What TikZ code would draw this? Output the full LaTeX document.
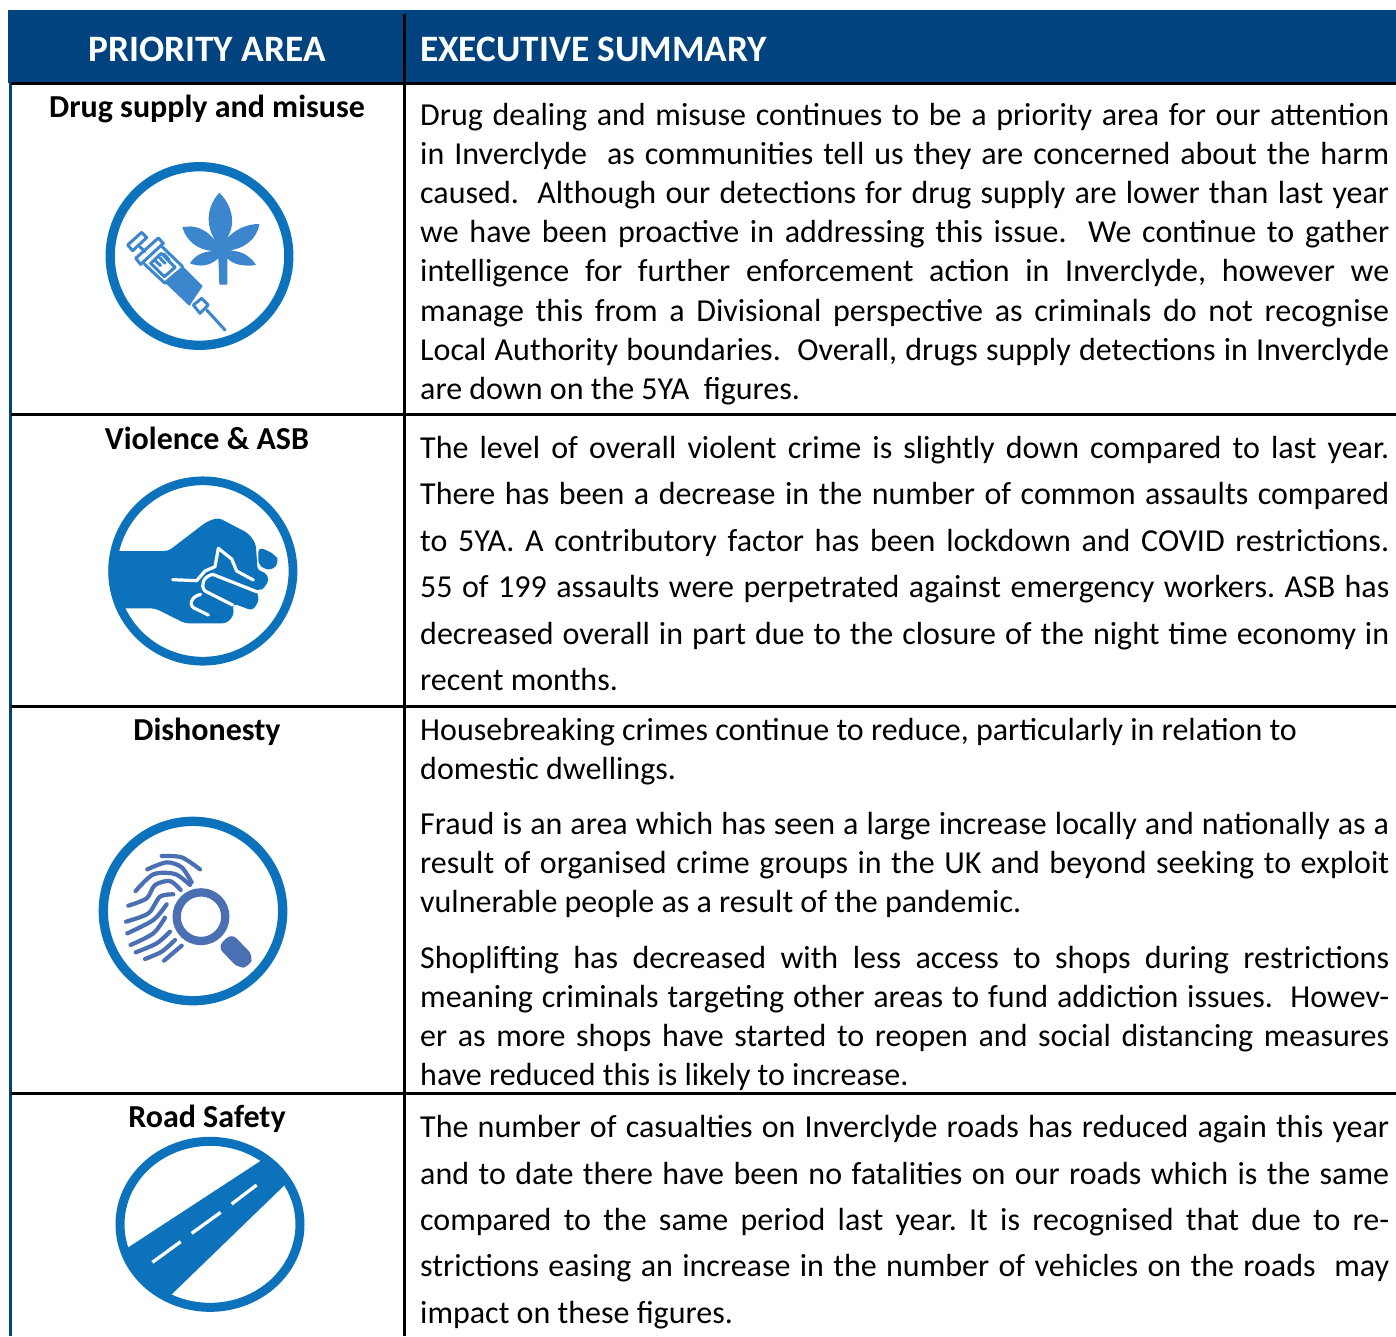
\documentclass[tikz,border=0pt]{standalone}
\usepackage{fontspec}
\setmainfont{Carlito}
\definecolor{headblue}{HTML}{00437F}
\definecolor{ringblue}{HTML}{0B72BB}
\definecolor{leafblue}{HTML}{3B86CC}
\definecolor{printblue}{HTML}{4A6FB3}
\tikzset{
  bodyline/.style={anchor=base west,inner sep=0pt,yshift=-1pt,font=\fontsize{32}{38}\selectfont},
  rowtitle/.style={anchor=base,inner sep=0pt,yshift=-1pt,font=\fontsize{32}{38}\selectfont\bfseries},
  headtext/.style={anchor=base,inner sep=0pt,yshift=-1pt,text=white,font=\fontsize{37.3}{44}\selectfont\bfseries},
  rule/.style={line width=3pt,black},
  ring/.style={draw=ringblue,line width=9.3pt},
  ridge/.style={draw=printblue,line width=4.2pt,line cap=round},
  zoomA/.style={shift={(90,150)},scale=0.33333},
  zoomB/.style={shift={(90,465)},scale=0.33333},
  zoomC/.style={shift={(90,805)},scale=0.33333},
  zoomD/.style={shift={(100,1125)},scale=0.33333},
}
\newcommand\jline[3]{\node[bodyline] (#1) at (420,#2) {\makebox[969pt][s]{#3}};}
\newcommand\pline[3]{\node[bodyline] (#1) at (420,#2) {#3};}
\frenchspacing
\begin{document}
\begin{tikzpicture}[x=1pt,y=-1pt]
\useasboundingbox (0,0) rectangle (1396,1336);
\fill[white] (0,0) rectangle (1396,1336);
% header
\fill[headblue] (8,10) rectangle (1396,83);
\fill[headblue] (9,83) rectangle (11.7,1336);
\draw[rule] (404.7,14) -- (404.7,1336);
\draw[rule] (11,83.3) -- (1396,83.3);
\draw[rule] (11,414.5) -- (1396,414.5);
\draw[rule] (11,706.5) -- (1396,706.5);
\draw[rule] (11,1093.5) -- (1396,1093.5);
\node[headtext] (hleft) at (207,60) {PRIORITY AREA};
\node[headtext,anchor=base west] (hright) at (420,60) {EXECUTIVE SUMMARY};
% row titles
\node[rowtitle] (t1) at (207,116) {Drug supply and misuse};
\node[rowtitle] (t2) at (207,448) {Violence \& ASB};
\node[rowtitle] (t3) at (207,739) {Dishonesty};
\node[rowtitle] (t4) at (207,1126) {Road Safety};
% row 1
\jline{a1}{124}{Drug dealing and misuse continues to be a priority area for our attention}
\jline{a2}{163}{in Inverclyde~~as communities tell us they are concerned about the harm}
\jline{a3}{202}{caused.~~Although our detections for drug supply are lower than last year}
\jline{a4}{241}{we have been proactive in addressing this issue.~~We continue to gather}
\jline{a5}{280}{intelligence for further enforcement action in Inverclyde, however we}
\jline{a6}{320}{manage this from a Divisional perspective as criminals do not recognise}
\jline{a7}{359}{Local Authority boundaries.~~Overall, drugs supply detections in Inverclyde}
\pline{a8}{398}{are down on the 5YA~~figures.}
% row 2
\jline{b1}{457}{The level of overall violent crime is slightly down compared to last year.}
\jline{b2}{503}{There has been a decrease in the number of common assaults compared}
\jline{b3}{550}{to 5YA. A contributory factor has been lockdown and COVID restrictions.}
\jline{b4}{596}{55 of 199 assaults were perpetrated against emergency workers. ASB has}
\jline{b5}{643}{decreased overall in part due to the closure of the night time economy in}
\pline{b6}{689}{recent months.}
% row 3
\pline{c1}{739}{Housebreaking crimes continue to reduce, particularly in relation to}
\pline{c2}{778}{domestic dwellings.}
\jline{c3}{833}{Fraud is an area which has seen a large increase locally and nationally as a}
\jline{c4}{872}{result of organised crime groups in the UK and beyond seeking to exploit}
\pline{c5}{911}{vulnerable people as a result of the pandemic.}
\jline{c6}{967}{Shoplifting has decreased with less access to shops during restrictions}
\jline{c7}{1006}{meaning criminals targeting other areas to fund addiction issues.~~Howev-}
\jline{c8}{1045}{er as more shops have started to reopen and social distancing measures}
\pline{c9}{1084}{have reduced this is likely to increase.}
% row 4
\jline{d1}{1136}{The number of casualties on Inverclyde roads has reduced again this year}
\jline{d2}{1183}{and to date there have been no fatalities on our roads which is the same}
\jline{d3}{1229}{compared to the same period last year. It is recognised that due to re-}
\jline{d4}{1275}{strictions easing an increase in the number of vehicles on the roads~~may}
\pline{d5}{1322}{impact on these figures.}
% icon 1: syringe and leaf
\draw[ring] (199.5,256) circle[radius=89.3];
\begin{scope}[zoomA]
  \fill[leafblue] (390,290) .. controls (345,240) and (345,175) .. (388,128)
     .. controls (435,175) and (435,235) .. (408,268)
     .. controls (435,238) and (470,222) .. (508,222)
     .. controls (500,268) and (465,295) .. (412,303)
     .. controls (445,298) and (480,315) .. (498,345)
     .. controls (465,350) and (430,345) .. (412,325)
     -- (412,404) -- (388,404) -- (385,325)
     .. controls (360,348) and (330,352) .. (300,340)
     .. controls (315,315) and (340,305) .. (368,303)
     .. controls (325,300) and (290,275) .. (277,232)
     .. controls (315,222) and (350,240) .. (372,268) -- cycle;
  \begin{scope}[leafblue,line width=3pt,line join=round,line cap=round]
    \draw (113,285) -- (155,247) -- (170,263) -- (128,302) -- cycle;
    \draw (150,290) -- (165,305);
    \draw (137,325) -- (205,264) -- (220,280) -- (152,343) -- cycle;
    \draw (163,342) -- (225,400);
    \draw (213,287) -- (278,350);
    \draw (182,340) -- (214,310) -- (255,352) -- (223,380) -- cycle;
    \draw (196,332) -- (212,347);
    \draw (208,322) -- (225,340);
    \draw (222,312) -- (238,330);
    \draw (310,465) -- (335,445) -- (355,465) -- (330,490) -- cycle;
    \draw (350,480) -- (405,540);
  \end{scope}
  \fill[leafblue] (222,395) -- (278,348) -- (338,408) -- (298,468) -- cycle;
\end{scope}
% icon 2: fist
\draw[ring,line width=8.7pt] (202.8,571) circle[radius=90.2];
\begin{scope}[zoomB]
  \clip (338,318) circle[radius=282];
  \fill[ringblue,rounded corners=4pt] (40,258) -- (235,258) -- (350,170) -- (385,158) -- (475,205) -- (497,235) -- (503,318) -- (525,320) -- (538,345) -- (515,378) -- (497,370) -- (508,405) -- (488,437) -- (428,415) -- (432,450) -- (410,475) -- (285,475) -- (195,430) -- (40,430) -- cycle;
  \fill[ringblue,rounded corners=6pt] (505,245) -- (555,268) -- (568,290) -- (545,318) -- (505,303) -- cycle;
  \begin{scope}[white,line width=3.2pt,line join=round,line cap=round]
    \draw (248,344) -- (320,347) -- (345,318) -- (375,305) -- (385,250) -- (425,282) -- (440,318) -- (490,345);
    \draw (500,380) -- (368,328) .. controls (340,335) and (330,360) .. (345,378) -- (428,420);
    \draw (332,388) .. controls (300,395) and (295,425) .. (318,432) -- (355,450);
  \end{scope}
\end{scope}
% icon 3: fingerprint and magnifier
\draw[ring] (193,911) circle[radius=89.7];
\begin{scope}[zoomC]
  \draw[ridge] plot[smooth] coordinates {(215,153) (275,157) (330,193)};
  \draw[ridge] plot[smooth] coordinates {(172,193) (230,172) (275,187) (305,232)};
  \draw[ridge] plot[smooth] coordinates {(137,258) (190,208) (255,207) (300,240)};
  \draw[ridge] plot[smooth] coordinates {(115,302) (170,280) (195,240) (240,228) (272,255)};
  \draw[ridge] plot[smooth] coordinates {(108,350) (175,325) (210,275) (250,268)};
  \draw[ridge] plot[smooth] coordinates {(112,385) (190,345) (230,298)};
  \draw[ridge] plot[smooth] coordinates {(122,420) (190,385) (225,338)};
  \draw[ridge] plot[smooth] coordinates {(137,442) (200,415) (240,380)};
  \draw[ridge] plot[smooth] coordinates {(165,462) (215,440) (255,405)};
  \draw[ridge] plot[smooth] coordinates {(222,467) (275,422)};
  \draw[printblue,line width=8.3pt] (333,335) circle[radius=73];
  \fill[printblue,rounded corners=7pt] (383,425) -- (425,385) -- (490,452) -- (478,485) -- (445,490) -- cycle;
\end{scope}
% icon 4: road
\begin{scope}[zoomD]
  \begin{scope}
    \clip (330,298) circle[x radius=280,y radius=260];
    \fill[ringblue] (85,367) -- (483,107) -- (600,80) -- (552,182) -- (215,508) -- (60,560) -- (40,390) -- cycle;
  \end{scope}
  \draw[ringblue,line width=9pt] (330,298) circle[x radius=270,y radius=249];
  \begin{scope}[white,line width=3.3pt]
    \draw (157,412) -- (242,350);
    \draw (275,325) -- (362,262);
    \draw (395,237) -- (470,180);
  \end{scope}
\end{scope}
\end{tikzpicture}
\end{document}
